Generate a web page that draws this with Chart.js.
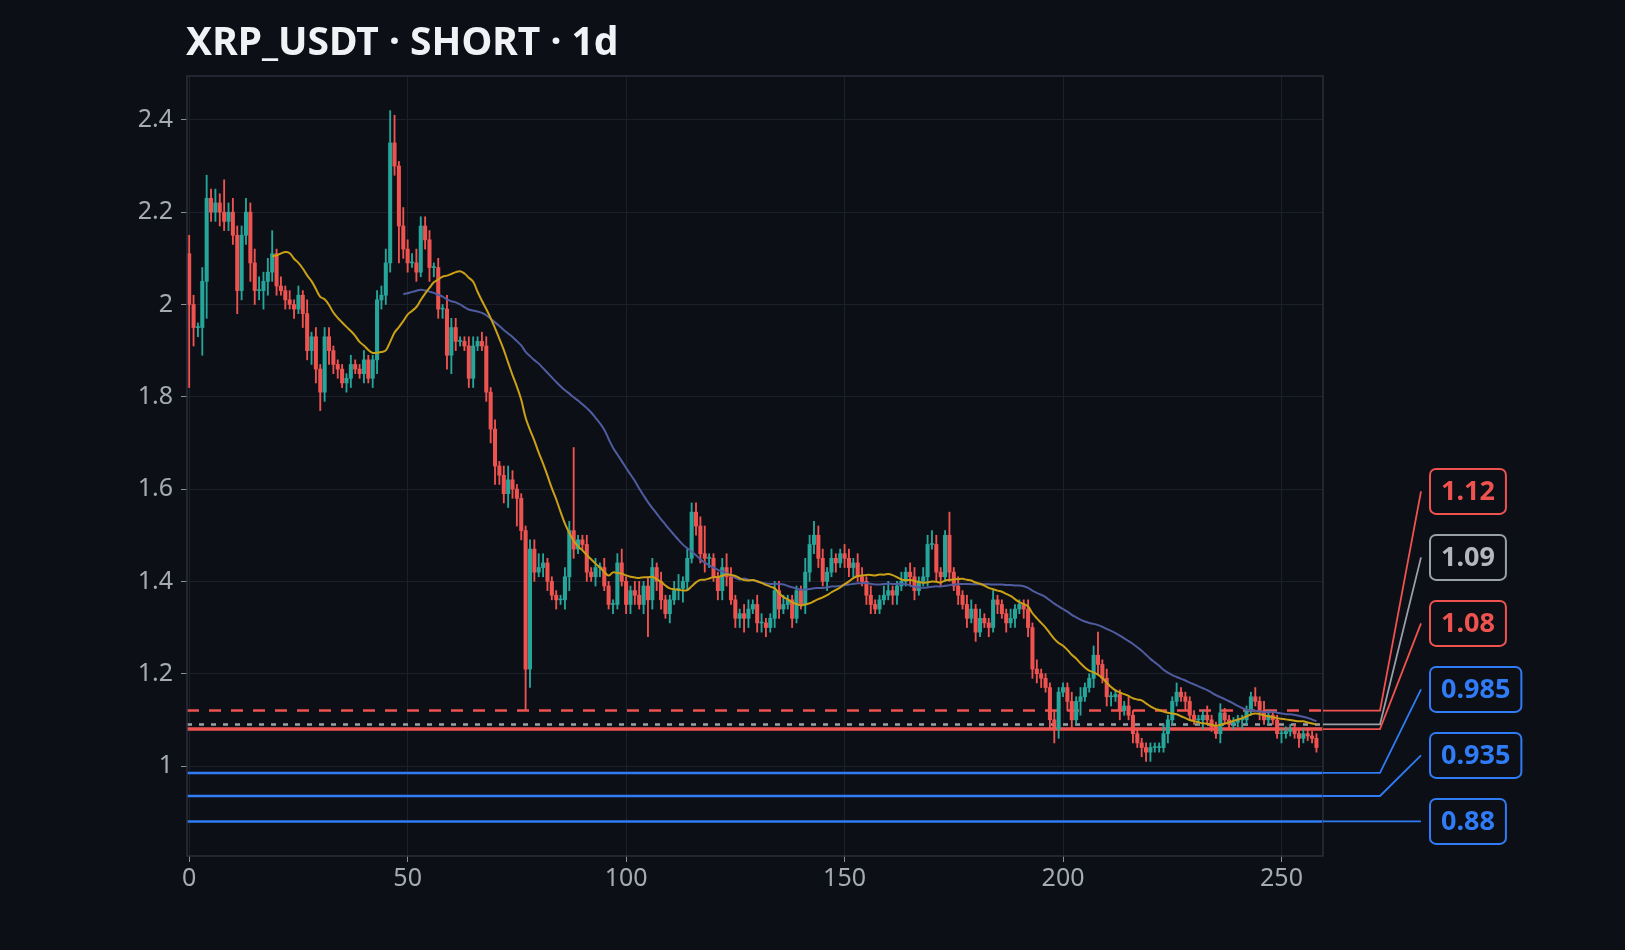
<!DOCTYPE html>
<html><head><meta charset="utf-8">
<script src="https://cdn.jsdelivr.net/npm/chart.js@4/dist/chart.umd.min.js"></script>
<style>html,body{margin:0;background:#0c0f16;}#w{width:1625px;height:950px;}</style>
</head><body><div id="w"><canvas id="c"></canvas></div>
<script>
const titleText = "XRP_USDT · SHORT · 1d";
const firstOpen = 2.11;
const closes = [2.00,1.95,1.95,2.05,2.23,2.20,2.22,2.20,2.18,2.20,2.15,2.03,2.15,2.20,2.09,2.03,2.03,2.05,2.07,2.11,
2.04,2.03,2.01,2.00,1.99,2.02,1.98,1.90,1.93,1.86,1.81,1.93,1.90,1.87,1.86,1.83,1.84,1.87,1.86,1.85,
1.88,1.84,1.88,2.01,2.02,2.09,2.35,2.30,2.17,2.12,2.09,2.09,2.07,2.17,2.14,2.08,2.08,1.99,1.99,1.89,
1.95,1.92,1.92,1.91,1.84,1.91,1.92,1.91,1.81,1.73,1.65,1.63,1.59,1.62,1.60,1.58,1.51,1.21,1.47,1.42,
1.43,1.44,1.40,1.37,1.36,1.36,1.41,1.51,1.47,1.49,1.48,1.42,1.41,1.43,1.43,1.39,1.35,1.35,1.44,1.40,
1.35,1.38,1.37,1.35,1.39,1.36,1.43,1.40,1.36,1.33,1.36,1.38,1.385,1.40,1.45,1.55,1.52,1.46,1.45,
1.45,1.41,1.38,1.43,1.41,1.36,1.32,1.33,1.32,1.34,1.35,1.31,1.31,1.30,1.32,1.38,1.34,1.35,1.36,1.32,
1.38,1.35,1.42,1.48,1.50,1.45,1.40,1.42,1.45,1.44,1.46,1.45,1.43,1.44,1.41,1.40,1.37,1.35,1.34,1.36,
1.37,1.38,1.37,1.39,1.40,1.42,1.41,1.38,1.40,1.41,1.48,1.48,1.42,1.41,1.50,1.42,1.39,1.37,1.35,1.32,
1.34,1.29,1.32,1.31,1.30,1.36,1.35,1.33,1.31,1.32,1.34,1.35,1.34,1.30,1.21,1.20,1.19,1.17,1.10,1.08,
1.16,1.17,1.14,1.10,1.14,1.15,1.17,1.19,1.24,1.22,1.19,1.15,1.15,1.155,1.12,1.13,1.11,1.07,1.05,1.04,
1.03,1.04,1.04,1.04,1.07,1.10,1.14,1.16,1.15,1.14,1.11,1.10,1.10,1.11,1.10,1.085,1.07,1.115,1.10,1.09,
1.095,1.10,1.10,1.12,1.15,1.14,1.12,1.10,1.11,1.10,1.07,1.07,1.075,1.08,1.07,1.06,1.07,1.065,1.06,1.04];
// wick extensions in hundredths (above max(open,close), below min(open,close))
const upWick = [4,2,1,3,5,2,3,2,7,2,3,2,2,3,2,3,3,2,3,5,
1,2,1,2,1,2,1,3,1,2,1,2,2,1,1,1,1,2,1,1,
2,1,1,2,2,3,7,6,1,4,2,2,3,2,2,2,1,2,1,3,
2,2,1,1,2,2,1,2,2,1,2,1,2,3,2,1,1,1,2,2,
3,2,1,1,1,1,2,2,18,1,1,2,1,2,1,2,1,1,2,3,
1,1,2,3,1,2,2,1,2,1,1,2,3,1,2,2,2,2,6,1,
1,1,2,3,2,1,1,2,2,1,2,2,1,1,2,2,2,1,1,1,
1,3,2,3,2,2,1,2,1,1,2,2,1,2,2,1,2,1,1,2,
2,1,1,2,1,2,2,1,2,2,3,2,1,1,5,1,2,1,2,2,
1,2,1,1,2,1,1,1,2,1,1,1,2,1,2,1,1,1,2,1,
1,1,2,1,2,1,1,2,5,1,2,1,1,1,1,2,1,1,1,1,
1,1,1,2,1,1,2,1,1,1,1,1,1,2,1,1,2,1,1,1,
1,1,1,1,2,1,2,1,1,1,1,1,1,1,1,1,1,1,1,1];
const dnWick = [18,4,2,6,8,2,2,3,2,2,2,5,2,2,4,3,2,4,3,2,
2,1,2,1,2,1,3,2,3,3,4,2,3,2,2,1,2,2,1,1,
2,1,2,3,2,2,2,2,8,2,2,1,2,1,2,3,2,2,2,3,
4,2,1,1,2,2,1,1,2,3,4,2,2,3,2,6,2,9,4,2,
1,2,2,1,2,1,2,3,2,1,1,2,1,2,2,1,1,2,1,1,
2,2,2,1,2,8,2,2,2,1,2,1,2,3,2,1,2,2,3,2,
1,2,2,2,1,2,2,3,2,1,2,2,2,1,2,2,1,1,2,1,
1,2,2,2,2,1,2,1,2,1,2,2,2,1,1,2,2,1,1,1,
1,2,2,1,1,2,2,1,1,2,1,2,2,1,2,1,2,1,2,1,
2,1,1,2,1,2,1,2,1,2,1,2,2,2,2,2,1,2,3,2,
1,2,2,1,3,1,1,2,2,1,2,2,1,2,1,1,2,1,2,2,
2,1,1,1,2,1,1,1,2,1,1,1,2,1,1,1,2,1,1,1,
1,2,1,1,1,2,1,1,1,1,2,1,1,1,2,1,1,1,1,1];
const levelValues = [1.12, 1.09, 1.08, 0.985, 0.935, 0.88];
const levelLabels = ["1.12","1.09","1.08","0.985","0.935","0.88"];
const levelColors = ["#ef5350","#9aa0a8","#ef5350","#2f7cf6","#2f7cf6","#2f7cf6"];
const levelDash = [[12,10],[5,7],[],[],[],[]];
const levelWidth = [2.5,2.5,3.5,2.5,2.5,2.5];
const fastPeriod = 20, slowPeriod = 50;
const xTicks = [0,50,100,150,200,250];
const yTicks = [1,1.2,1.4,1.6,1.8,2,2.2,2.4];

const n = closes.length;
const opens = closes.map((c,i)=> i===0 ? firstOpen : closes[i-1]);
const highs = closes.map((c,i)=> Math.max(opens[i],c) + (upWick[i]||1)/100);
const lows = closes.map((c,i)=> Math.min(opens[i],c) - (dnWick[i]||1)/100);
const up = closes.map((c,i)=> c>=opens[i]);
const G="#26a69a", R="#ef5350";
const cols = up.map(u=>u?G:R);
function sma(p){const o=[];for(let i=p-1;i<n;i++){let s=0;for(let k=i-p+1;k<=i;k++)s+=closes[k];o.push({x:i,y:s/p});}return o;}

const datasets = [];
levelValues.forEach((v,i)=>datasets.push({type:'line',data:[{x:-0.5,y:v},{x:259.5,y:v}],borderColor:levelColors[i],borderDash:levelDash[i],borderWidth:levelWidth[i],pointRadius:0,order:5}));
datasets.push({type:'bar',data:closes.map((c,i)=>({x:i,y:[lows[i],highs[i]]})),backgroundColor:cols,barThickness:1.2,grouped:false,order:3});
datasets.push({type:'bar',data:closes.map((c,i)=>({x:i,y:[opens[i],c===opens[i]?c+0.002:c]})),backgroundColor:cols,barThickness:3.4,grouped:false,order:2});
datasets.push({type:'line',data:sma(fastPeriod),borderColor:"#c9a016",borderWidth:2,pointRadius:0,tension:0.4,order:1});
datasets.push({type:'line',data:sma(slowPeriod),borderColor:"#4f5ca0",borderWidth:2,pointRadius:0,tension:0.4,order:1});

const deco = {id:'deco',
 beforeDraw(ch){const c=ch.ctx;c.save();c.fillStyle="#0c0f16";c.fillRect(0,0,ch.width,ch.height);c.restore();},
 afterDraw(ch){
  const c=ch.ctx, ys=ch.scales.y, a=ch.chartArea;
  c.save();
  c.fillStyle="#f0f2f5";c.font="bold 39px 'Noto Sans'";c.textBaseline="alphabetic";
  c.fillText(titleText,186,55);
  c.strokeStyle="#2b2f3a";c.lineWidth=1.5;c.strokeRect(a.left,a.top,a.right-a.left,a.bottom-a.top);
  const idx=levelValues.map((v,i)=>i).sort((p,q)=>levelValues[p]-levelValues[q]);
  let ly=null;
  idx.forEach(i=>{
   const py=ys.getPixelForValue(levelValues[i]);
   let y = ly===null? py : Math.min(py, ly-66); ly=y;
   c.strokeStyle=levelColors[i];c.lineWidth=1.8;c.setLineDash([]);
   c.beginPath();c.moveTo(a.right,py);
   if(Math.abs(y-py)>1){c.lineTo(1380,py);}
   c.lineTo(1421,y);c.stroke();
   c.font="bold 27px 'Noto Sans'";
   const tw=c.measureText(levelLabels[i]).width;const bw=tw+22,bh=45,bx=1430,by=y-bh/2;
   c.fillStyle="#0c0f16";c.beginPath();c.roundRect(bx,by,bw,bh,6);c.fill();
   c.lineWidth=2;c.stroke();
   c.fillStyle=levelColors[i]==="#9aa0a8"?"#b4b8be":levelColors[i];c.textBaseline="middle";c.textAlign="left";
   c.fillText(levelLabels[i],bx+11,y+1);
  });
  c.restore();
 }};

new Chart(document.getElementById('c'),{
 data:{datasets},
 options:{responsive:true,maintainAspectRatio:false,animation:false,
  layout:{padding:{top:76,right:302,bottom:50,left:0}},
  plugins:{legend:{display:false},tooltip:{enabled:false}},
  scales:{
   x:{type:'linear',min:-0.5,max:259.5,offset:false,afterBuildTicks(s){s.ticks=xTicks.map(v=>({value:v}));},
      grid:{color:"#1c2029",offset:false,drawTicks:true,tickLength:6,tickColor:"#8a8f98"},border:{display:false},
      ticks:{color:"#a6aab2",font:{size:25,family:"'Noto Sans'"},padding:2},afterFit(s){s.height=44;}},
   y:{type:'linear',min:0.805,max:2.495,afterBuildTicks(s){s.ticks=yTicks.map(v=>({value:v}));},
      ticks:{color:"#a6aab2",font:{size:25,family:"'Noto Sans'"},padding:8,callback:v=>String(+v.toFixed(2))},
      grid:{color:"#1c2029",tickLength:6,tickColor:"#8a8f98"},border:{display:false},afterFit(s){s.width=187;}}
  }},
 plugins:[deco]});
</script></body></html>
